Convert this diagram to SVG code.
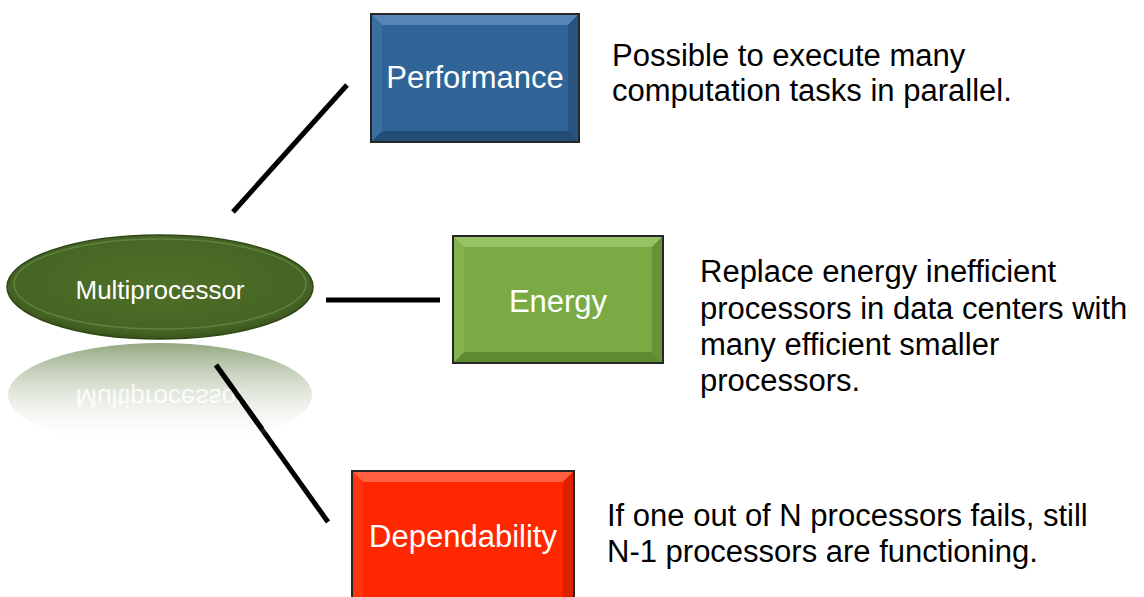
<svg xmlns="http://www.w3.org/2000/svg" width="1144" height="597" viewBox="0 0 1144 597">
<style>
.desc{font-family:"Liberation Sans",Arial,sans-serif;font-size:31px;fill:#000}
.lbl{font-family:"Liberation Sans",Arial,sans-serif;fill:#fff;text-anchor:middle}
.conn{stroke:#000;stroke-width:5;stroke-linecap:butt}
.box{stroke:#262626;stroke-width:2}
</style>
<defs>
<radialGradient id="ellG" cx="0.5" cy="0.45" r="0.6">
<stop offset="0" stop-color="#4f7028"/>
<stop offset="0.8" stop-color="#466524"/>
<stop offset="1" stop-color="#2f4716"/>
</radialGradient>
<linearGradient id="reflG" x1="0" y1="0" x2="0" y2="1">
<stop offset="0" stop-color="#6f8a55" stop-opacity="0.75"/>
<stop offset="1" stop-color="#ffffff" stop-opacity="0"/>
</linearGradient>
</defs>
<g id="connectors">
<line class="conn" x1="233" y1="212" x2="347" y2="85"/>
<line class="conn" x1="326" y1="300" x2="440" y2="300"/>
<line class="conn" x1="216" y1="365" x2="328" y2="522"/>
</g>
<g id="multiprocessor-reflection">
<ellipse cx="160" cy="395" rx="152" ry="52" fill="url(#reflG)"/>
<text class="lbl" x="160" y="-389" font-size="26" transform="scale(1,-1)" fill-opacity="0.85">Multiprocessor</text>
</g>
<line class="conn" x1="216" y1="365" x2="262" y2="429"/>
<g id="multiprocessor">
<ellipse cx="160" cy="287" rx="153" ry="52" fill="url(#ellG)" stroke="#2f4716" stroke-width="1.5"/>
<ellipse cx="160" cy="284" rx="146" ry="45" fill="none" stroke="#7c9a5a" stroke-width="1.5" stroke-opacity="0.5"/>
<text class="lbl" x="160" y="299" font-size="26">Multiprocessor</text>
</g>
<g id="performance">
<rect class="box" x="371" y="14" width="208" height="128" fill="#306496"/>
<polygon points="372,15 578,15 568,25 382,25" fill="#5586b5"/>
<polygon points="372,141 578,141 568,131 382,131" fill="#244d75"/>
<polygon points="578,15 578,141 568,131 568,25" fill="#27537f"/>
<polygon points="372,15 372,141 382,131 382,25" fill="#3a6fa2"/>
<text class="lbl" x="475" y="88" font-size="31">Performance</text>
</g>
<g id="energy">
<rect class="box" x="453" y="236" width="210" height="127" fill="#7aaa44"/>
<polygon points="454,237 662,237 652,247 464,247" fill="#98c266"/>
<polygon points="454,362 662,362 652,352 464,352" fill="#5f8a31"/>
<polygon points="662,237 662,362 652,352 652,247" fill="#66923a"/>
<polygon points="454,237 454,362 464,352 464,247" fill="#84b24f"/>
<text class="lbl" x="558" y="312" font-size="31">Energy</text>
</g>
<g id="dependability">
<rect class="box" x="352" y="471" width="222" height="130" fill="#ff2600"/>
<polygon points="353,472 573,472 563,482 363,482" fill="#ff6040"/>
<polygon points="573,472 573,600 563,600 563,482" fill="#dd2000"/>
<polygon points="353,472 353,600 363,600 363,482" fill="#ff3510"/>
<text class="lbl" x="463" y="547" font-size="31">Dependability</text>
</g>
<g id="descriptions">
<text class="desc" x="612" y="66">Possible to execute many</text>
<text class="desc" x="612" y="101">computation tasks in parallel.</text>
<text class="desc" x="700" y="282">Replace energy inefficient</text>
<text class="desc" x="700" y="319">processors in data centers with</text>
<text class="desc" x="700" y="355">many efficient smaller</text>
<text class="desc" x="700" y="391">processors.</text>
<text class="desc" x="607" y="526">If one out of N processors fails, still</text>
<text class="desc" x="607" y="562">N-1 processors are functioning.</text>
</g>
</svg>
